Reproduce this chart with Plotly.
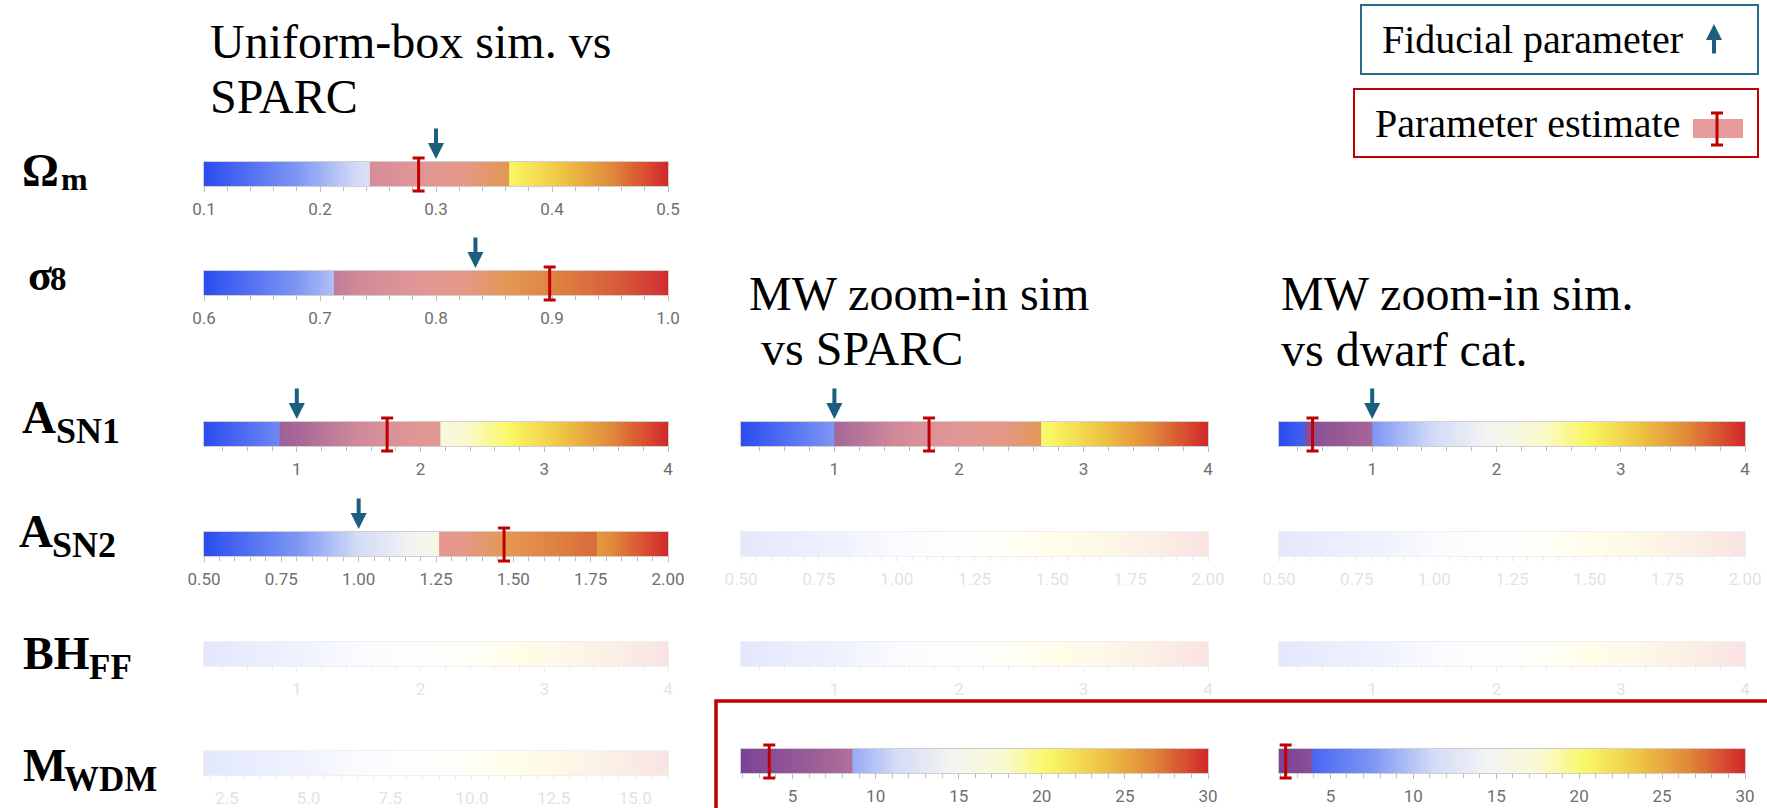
import numpy as np
import plotly.graph_objects as go

W, H = 1767, 808

# ---------------- data ----------------
# column 1: Uniform-box sim. vs SPARC
COL1_PARAMS = ["Om", "s8", "ASN1", "ASN2", "BHFF", "MWDM"]
COL1_LO = [0.1, 0.6, 0.25, 0.5, 0.25, 1.8]
COL1_HI = [0.5, 1.0, 4.0, 2.0, 4.0, 16.0]
COL1_FID = [0.3, 0.834, 1.0, 1.0, None, None]
COL1_EST = [0.285, 0.898, 1.73, 1.47, None, None]
COL1_EST_LO = [0.243, 0.712, 0.86, 1.26, None, None]
COL1_EST_HI = [0.363, 0.995, 2.16, 1.77, None, None]
COL1_DTICK = [0.1, 0.1, 1, 0.25, 1, 2.5]
COL1_MINOR = [0.02, 0.02, 0.2, 0.05, 0.2, 0.5]
COL1_FMT = [".1f", ".1f", "d", ".2f", "d", ".1f"]

# column 2: MW zoom-in sim vs SPARC
COL2_PARAMS = ["ASN1", "ASN2", "BHFF", "MWDM"]
COL2_LO = [0.25, 0.5, 0.25, 1.9]
COL2_HI = [4.0, 2.0, 4.0, 30.0]
COL2_FID = [1.0, None, None, None]
COL2_EST = [1.76, None, None, 3.6]
COL2_EST_LO = [1.0, None, None, 1.9]
COL2_EST_HI = [2.66, None, None, 8.6]

# column 3: MW zoom-in sim. vs dwarf cat.
COL3_PARAMS = ["ASN1", "ASN2", "BHFF", "MWDM"]
COL3_LO = [0.25, 0.5, 0.25, 1.9]
COL3_HI = [4.0, 2.0, 4.0, 30.0]
COL3_FID = [1.0, None, None, None]
COL3_EST = [0.52, None, None, 2.3]
COL3_EST_LO = [0.46, None, None, 1.9]
COL3_EST_HI = [1.0, None, None, 3.9]

COL23_DTICK = [1, 0.25, 1, 5]
COL23_MINOR = [0.2, 0.05, 0.2, 1]
COL23_FMT = ["d", ".2f", "d", "d"]

TITLES = [["Uniform-box sim. vs", "SPARC"],
          ["MW zoom-in sim", " vs SPARC"],
          ["MW zoom-in sim.", "vs dwarf cat."]]

# ---------------- styling / geometry ----------------
COL_X = [(204, 668), (741, 1208), (1279, 1745)]
ROW_TOP = {"Om": 162, "s8": 271, "ASN1": 422, "ASN2": 532, "BHFF": 642, "MWDM": 751}
ROW_TOP_23 = {"ASN1": 422, "ASN2": 532, "BHFF": 642, "MWDM": 749}
BAR_H = 24

CS = [[0.0, "#2b4cf0"], [0.2, "#7d96f4"], [0.33, "#d3dbf7"], [0.45, "#f3f4f2"],
      [0.56, "#fafad2"], [0.66, "#f9f764"], [0.77, "#efc545"], [0.88, "#e0873a"],
      [1.0, "#d2262b"]]
EST_FILL = "rgba(205,55,60,0.5)"
RED = "#c00000"
ARROW = "#1b5e80"
SERIF = "Liberation Serif"


def py(px):
    return 1 - px / H


def px_x(px):
    return px / W


panels = []
for k, p in enumerate(COL1_PARAMS):
    panels.append(dict(col=0, top=ROW_TOP[p], lo=COL1_LO[k], hi=COL1_HI[k], fid=COL1_FID[k],
                       est=COL1_EST[k], elo=COL1_EST_LO[k], ehi=COL1_EST_HI[k],
                       dtick=COL1_DTICK[k], minor=COL1_MINOR[k], fmt=COL1_FMT[k]))
for col, (params, lo, hi, fid, est, elo, ehi) in enumerate(
        [(COL2_PARAMS, COL2_LO, COL2_HI, COL2_FID, COL2_EST, COL2_EST_LO, COL2_EST_HI),
         (COL3_PARAMS, COL3_LO, COL3_HI, COL3_FID, COL3_EST, COL3_EST_LO, COL3_EST_HI)], start=1):
    for k, p in enumerate(params):
        panels.append(dict(col=col, top=ROW_TOP_23[p], lo=lo[k], hi=hi[k], fid=fid[k],
                           est=est[k], elo=elo[k], ehi=ehi[k],
                           dtick=COL23_DTICK[k], minor=COL23_MINOR[k], fmt=COL23_FMT[k]))

fig = go.Figure()
layout = dict(width=W, height=H, autosize=False,
              margin=dict(l=0, r=0, t=0, b=0, pad=0, autoexpand=False),
              paper_bgcolor="white", plot_bgcolor="white", showlegend=False)
shapes = []
annotations = []

for i, pn in enumerate(panels, start=1):
    active = pn["est"] is not None
    xs = np.linspace(pn["lo"], pn["hi"], 300)
    xname = "x" if i == 1 else f"x{i}"
    yname = "y" if i == 1 else f"y{i}"
    fig.add_trace(go.Heatmap(x=xs, y=[0.5], z=[xs], colorscale=CS, zmin=pn["lo"], zmax=pn["hi"],
                             showscale=False, opacity=1.0 if active else 0.13,
                             xaxis=xname, yaxis=yname, hoverinfo="skip"))
    x0, x1 = COL_X[pn["col"]]
    top = pn["top"]
    bot = top + BAR_H
    tick_col = "#6f6f6f" if active else "#e3e3e3"
    mark_col = "#bdbdbd" if active else "#eeeeee"
    line_col = "#cfcfcf" if active else "#f0f0f0"
    layout["xaxis" if i == 1 else f"xaxis{i}"] = dict(
        domain=[px_x(x0), px_x(x1)], anchor=yname, range=[pn["lo"], pn["hi"]],
        automargin=False,
        tick0=0, dtick=pn["dtick"], tickformat=pn["fmt"], ticks="outside", ticklen=5,
        tickcolor=mark_col, tickwidth=1, tickfont=dict(family="Roboto", size=17, color=tick_col),
        ticklabelstandoff=3,
        showline=True, linecolor=line_col, linewidth=1, mirror=True,
        showgrid=False, zeroline=False, fixedrange=True,
        minor=dict(tick0=0, dtick=pn["minor"], ticks="outside", ticklen=4,
                   tickcolor=mark_col, tickwidth=1, showgrid=False))
    layout["yaxis" if i == 1 else f"yaxis{i}"] = dict(
        domain=[py(bot), py(top)], anchor=xname, range=[0, 1], showticklabels=False,
        automargin=False,
        ticks="", showgrid=False, zeroline=False, showline=True, linecolor=line_col,
        mirror=True, fixedrange=True)

    if active:
        shapes.append(dict(type="rect", xref=xname, yref="paper", x0=pn["elo"], x1=pn["ehi"],
                           y0=py(bot), y1=py(top), fillcolor=EST_FILL, line=dict(width=0),
                           layer="above"))
        yt, yb = py(top - 4), py(bot + 5)
        shapes.append(dict(type="line", xref=xname, yref="paper", x0=pn["est"], x1=pn["est"],
                           y0=yb, y1=yt, line=dict(color=RED, width=3)))
        for yy in (yt, yb):
            shapes.append(dict(type="line", xref=xname, yref="paper", xsizemode="pixel",
                               xanchor=pn["est"], x0=-6, x1=6, y0=yy, y1=yy,
                               line=dict(color=RED, width=3)))
    if pn["fid"] is not None:
        annotations.append(dict(x=pn["fid"], y=py(top - 3), xref=xname, yref="paper",
                                ax=0, ay=-32, showarrow=True, arrowhead=2, arrowsize=0.8,
                                arrowwidth=4, arrowcolor=ARROW, text=""))


def text_at(txt, left, baseline, size, bold=False, color="black", family=SERIF):
    annotations.append(dict(
        text=f"<b>{txt}</b>" if bold else txt, xref="paper", yref="paper",
        x=px_x(left - 1), y=py(baseline + 0.216 * size + 1), xanchor="left", yanchor="bottom",
        showarrow=False, font=dict(family=family, size=size, color=color)))


# titles
TITLE_POS = [[(209, 59), (209, 114)], [(748, 311), (748, 366)], [(1280, 311), (1280, 367)]]
for t, pos in zip(TITLES, TITLE_POS):
    for line, (lx, bl) in zip(t, pos):
        text_at(line, lx, bl, 48)

# row labels (main, size, left, baseline, sub, size, left, baseline)
ROW_LABELS = [
    ("Ω", 46, 21, 187, "m", 32, 60, 191),
    ("σ", 44, 27, 291, "8", 33, 49, 291),
    ("A", 47, 21, 434, "SN1", 36, 55, 444),
    ("A", 47, 18, 548, "SN2", 36, 51, 558),
    ("BH", 46, 22, 670, "FF", 35, 88, 680),
    ("M", 46, 22, 782, "WDM", 35, 63, 792),
]
for m, ms, ml, mb, s, ss, sl, sb in ROW_LABELS:
    text_at(m, ml, mb, ms, bold=True)
    text_at(s, sl, sb, ss, bold=True)

# legend boxes
shapes.append(dict(type="rect", xref="paper", yref="paper", x0=px_x(1361), x1=px_x(1758),
                   y0=py(74), y1=py(5), line=dict(color="#2a6a8a", width=2)))
shapes.append(dict(type="rect", xref="paper", yref="paper", x0=px_x(1354), x1=px_x(1758),
                   y0=py(157), y1=py(89), line=dict(color=RED, width=2)))
text_at("Fiducial parameter", 1381, 54, 40)
text_at("Parameter estimate", 1374, 138, 40)
annotations.append(dict(x=px_x(1714), y=py(24), xref="paper", yref="paper", ax=0, ay=31,
                        showarrow=True, arrowhead=2, arrowsize=0.8, arrowwidth=4,
                        arrowcolor=ARROW, text=""))
shapes.append(dict(type="rect", xref="paper", yref="paper", x0=px_x(1693), x1=px_x(1743),
                   y0=py(138), y1=py(119), fillcolor=EST_FILL, line=dict(width=0)))
shapes.append(dict(type="line", xref="paper", yref="paper", x0=px_x(1717), x1=px_x(1717),
                   y0=py(145), y1=py(113), line=dict(color=RED, width=3)))
for yy in (113, 145):
    shapes.append(dict(type="line", xref="paper", yref="paper", x0=px_x(1711), x1=px_x(1723),
                       y0=py(yy), y1=py(yy), line=dict(color=RED, width=3)))

# highlight box around M_WDM row of zoom-in columns
shapes.append(dict(type="rect", xref="paper", yref="paper", x0=px_x(716), x1=1.02,
                   y0=-0.05, y1=py(701), line=dict(color=RED, width=3.5)))

layout["shapes"] = shapes
layout["annotations"] = annotations
fig.update_layout(**layout)
fig.write_html("out.html")
